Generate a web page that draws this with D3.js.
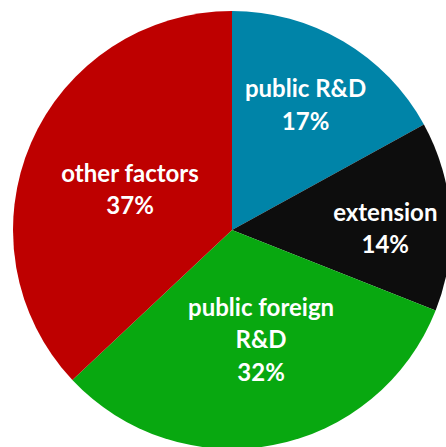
<!DOCTYPE html>
<html><head><meta charset="utf-8">
<script src="https://cdn.jsdelivr.net/npm/d3@7"></script>
<style>html,body{margin:0;padding:0;background:#fff;overflow:hidden}</style>
</head><body>
<svg id="c" width="446" height="447"></svg>
<script>
const categories = ["public R&D", "extension", "public foreign R&D", "other factors"];
const values = [17, 14, 32, 37];
const labelLines = [["public R&D"], ["extension"], ["public foreign", "R&D"], ["other factors"]];
const colors = ["#0084A8", "#0D0D0D", "#08A810", "#BE0000"];
const labelRadius = [0.66, 0.70, 0.52, 0.50];
const labelAngleShift = [0, 3.2, -4, -2];

const svg = d3.select("#c");
const cx = 232, cy = 230, R = 219;
const g = svg.append("g").attr("transform", `translate(${cx},${cy})`);
const data = categories.map((c, i) => ({c, v: values[i], i}));
const pie = d3.pie().value(d => d.v).sort(null);
const arc = d3.arc().innerRadius(0).outerRadius(R);
const arcs = pie(data);
g.selectAll("path").data(arcs).join("path")
  .attr("d", arc).attr("fill", d => colors[d.data.i]);

const lh = 32.5;
arcs.forEach(d => {
  const i = d.data.i;
  const lr = R * labelRadius[i];
  const a = (d.startAngle + d.endAngle) / 2 + labelAngleShift[i] * Math.PI / 180;
  const x = lr * Math.sin(a), y = -lr * Math.cos(a);
  const lines = labelLines[i].concat([d.data.v + "%"]);
  const t = g.append("text").attr("text-anchor", "middle")
    .attr("font-family", "Lato, sans-serif").attr("font-weight", "bold")
    .attr("font-size", 24).attr("fill", "#fff");
  lines.forEach((s, k) => {
    t.append("tspan").attr("x", x)
      .attr("y", y + (k - (lines.length - 1) / 2) * lh)
      .attr("dy", "0.33em").text(s);
  });
});
</script>
</body></html>
